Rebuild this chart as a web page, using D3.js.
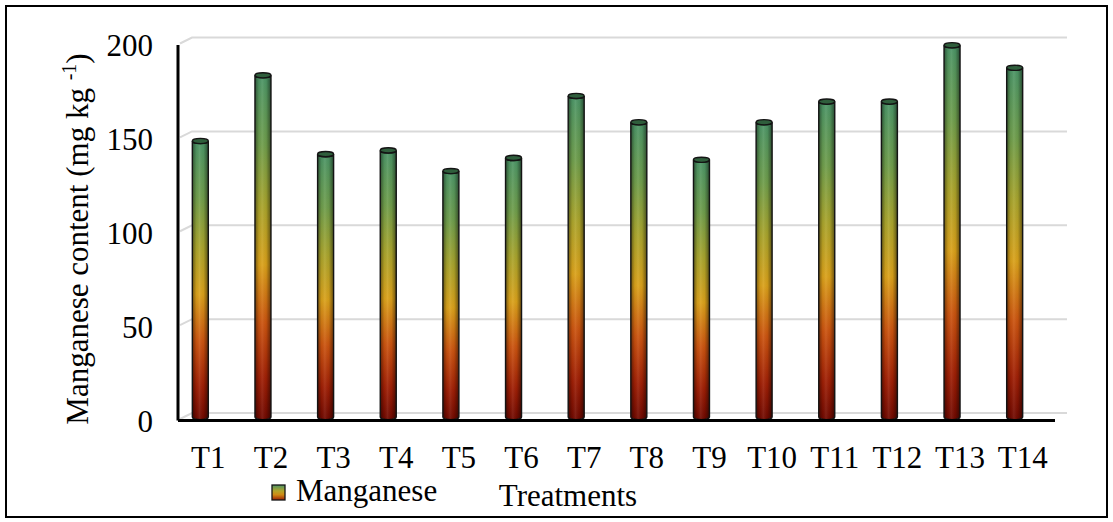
<!DOCTYPE html>
<html>
<head>
<meta charset="utf-8">
<script src="https://cdn.jsdelivr.net/npm/d3@7"></script>
<style>
  html, body { margin: 0; padding: 0; background: #fff; }
  svg { display: block; }
  text { font-family: "Liberation Serif", "Times New Roman", serif; fill: #000; }
</style>
</head>
<body>
<svg id="chart" width="1113" height="522"></svg>
<script>
// Manganese content per treatment (mg kg-1)
const categories = ["T1","T2","T3","T4","T5","T6","T7","T8","T9","T10","T11","T12","T13","T14"];
const manganese = [147, 182, 140, 142, 131, 138, 171, 157, 137, 157, 168, 168, 198, 186];
const yTicks = [0, 50, 100, 150, 200];
const seriesName = "Manganese";
const xTitle = "Treatments";
const yTitle = "Manganese content (mg kg ";
const yTitleSup = "-1";

const svg = d3.select("#chart");
const W = 1113, H = 522;
const FS = 31;

// outer frame
svg.append("rect").attr("x", 6).attr("y", 6).attr("width", W - 12).attr("height", H - 11)
  .attr("fill", "#fff").attr("stroke", "#000").attr("stroke-width", 2);

// front plane scales
const x = d3.scaleBand().domain(categories).range([178, 1055]).padding(0);
const y = d3.scaleLinear().domain([0, 200]).range([420.5, 45]);

// 3D depth offsets
const back = { dx: 12, dy: -7.5 };
const barShift = { dx: -9, dy: -3.5 };

const defs = svg.append("defs");

// vertical colour ramp for the cylinders
const grad = defs.append("linearGradient").attr("id", "mnFill")
  .attr("x1", 0).attr("y1", 1).attr("x2", 0).attr("y2", 0);
[["0%", "#700900"], ["12%", "#a01f05"], ["28%", "#cc540f"], ["45%", "#dba21a"],
 ["62%", "#aaa52c"], ["80%", "#6f9e4c"], ["100%", "#4b9567"]]
  .forEach(([o, c]) => grad.append("stop").attr("offset", o).attr("stop-color", c));

// horizontal shading that rounds the cylinder body
const shade = defs.append("linearGradient").attr("id", "mnShade")
  .attr("x1", 0).attr("y1", 0).attr("x2", 1).attr("y2", 0);
[["0%", "#000", 0.45], ["25%", "#000", 0.05], ["45%", "#fff", 0.08], ["70%", "#000", 0.05], ["100%", "#000", 0.5]]
  .forEach(([o, c, a]) => shade.append("stop").attr("offset", o).attr("stop-color", c).attr("stop-opacity", a));

// back wall gridlines with slanted floor/side join
const grid = svg.append("g");
yTicks.forEach(t => {
  const yf = y(t);
  grid.append("path")
    .attr("d", `M${x.range()[0] + 2},${yf - 1.5} L${x.range()[0] + back.dx + 2},${yf + back.dy} L${x.range()[1] + back.dx},${yf + back.dy}`)
    .attr("fill", "none").attr("stroke", "#d9d9d9").attr("stroke-width", 2);
});

// cylinders
const rx = 8, ry = 2.6;
const bars = svg.append("g");
categories.forEach((c, i) => {
  const v = manganese[i];
  const cx = x(c) + x.bandwidth() / 2 + barShift.dx;
  const yb = y(0) + barShift.dy;
  const yt = y(v) + barShift.dy;
  const body = `M${cx - rx},${yt} L${cx - rx},${yb} A${rx},${ry} 0 0 0 ${cx + rx},${yb} L${cx + rx},${yt} A${rx},${ry} 0 0 1 ${cx - rx},${yt} Z`;
  bars.append("path").attr("d", body).attr("fill", "url(#mnFill)");
  bars.append("path").attr("d", body).attr("fill", "url(#mnShade)")
    .attr("stroke", "#141414").attr("stroke-width", 1.4);
  bars.append("ellipse").attr("cx", cx).attr("cy", yt).attr("rx", rx).attr("ry", ry)
    .attr("fill", "#2f5e3c").attr("stroke", "#141414").attr("stroke-width", 1.4);
});

// front axes
svg.append("line").attr("x1", x.range()[0]).attr("x2", x.range()[1])
  .attr("y1", y(0)).attr("y2", y(0)).attr("stroke", "#000").attr("stroke-width", 3);
svg.append("line").attr("x1", x.range()[0]).attr("x2", x.range()[0])
  .attr("y1", y(200)).attr("y2", y(0)).attr("stroke", "#000").attr("stroke-width", 3);

// y tick labels
svg.append("g").selectAll("text").data(yTicks).join("text")
  .attr("x", 153).attr("y", d => y(d) + 11)
  .attr("text-anchor", "end").attr("font-size", FS).text(d => d);

// x tick labels
svg.append("g").selectAll("text").data(categories).join("text")
  .attr("x", d => x(d) + x.bandwidth() / 2 - 1).attr("y", 468)
  .attr("text-anchor", "middle").attr("font-size", FS).text(d => d);

// y axis title
const yt = svg.append("text").attr("transform", "translate(88,239) rotate(-90)")
  .attr("text-anchor", "middle").attr("font-size", FS);
yt.append("tspan").text(yTitle);
yt.append("tspan").attr("font-size", 20).attr("dy", -12).text(yTitleSup);
yt.append("tspan").attr("dy", 12).text(")");

// x axis title
svg.append("text").attr("x", 568).attr("y", 506).attr("text-anchor", "middle")
  .attr("font-size", FS).text(xTitle);

// legend
const legendGrad = defs.append("linearGradient").attr("id", "mnLegend")
  .attr("x1", 0).attr("y1", 1).attr("x2", 0).attr("y2", 0);
[["0%", "#9a1f06"], ["35%", "#d08a14"], ["60%", "#b3a52a"], ["100%", "#4d9466"]]
  .forEach(([o, c]) => legendGrad.append("stop").attr("offset", o).attr("stop-color", c));
svg.append("rect").attr("x", 272).attr("y", 485).attr("width", 13).attr("height", 15)
  .attr("fill", "url(#mnLegend)").attr("stroke", "#141414").attr("stroke-width", 1.3);
svg.append("text").attr("x", 296).attr("y", 501).attr("font-size", FS).text(seriesName);
</script>
</body>
</html>
